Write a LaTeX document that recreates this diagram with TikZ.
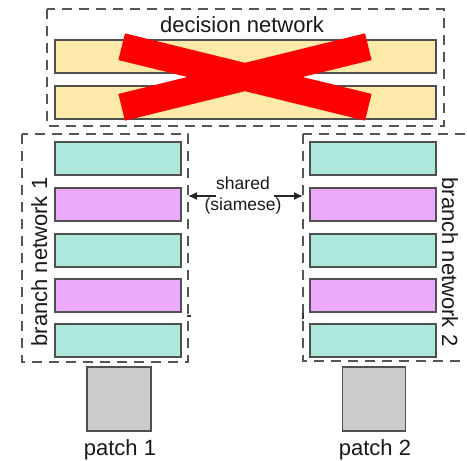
\documentclass[tikz,border=0pt]{standalone}
\usepackage{fontspec}
\setmainfont{Liberation Sans}
\usetikzlibrary{arrows.meta}
\definecolor{yel}{HTML}{FDE9A9}
\definecolor{teal2}{HTML}{AEE8DD}
\definecolor{pink2}{HTML}{EBAAFB}
\definecolor{patchgray}{HTML}{CCCCCC}
\definecolor{edge}{HTML}{505050}
\definecolor{dashgray}{HTML}{555555}
\tikzset{
  bar/.style={draw=edge, line width=1.3pt, rectangle, inner sep=0pt, minimum height=33pt},
  ybar/.style={bar, fill=yel, minimum width=381pt},
  tbar/.style={bar, fill=teal2, minimum width=126pt},
  pbar/.style={bar, fill=pink2, minimum width=126pt},
  patchbox/.style={draw=edge, line width=1.3pt, fill=patchgray, inner sep=0pt, minimum height=64pt},
  dbox/.style={draw=dashgray, line width=1.5pt, dash pattern=on 10pt off 7pt},
  lbl/.style={font=\fontsize{22}{26}\selectfont, text=black!90, inner sep=0pt},
  slbl/.style={font=\fontsize{17.5}{21}\selectfont, text=black!90, align=center, inner sep=0pt},
  arr/.style={draw=black!85, line width=1.4pt, -{Latex[length=9pt,width=8pt]}},
  cross/.style={draw=red, line width=27.5pt, line cap=butt}
}
\begin{document}
\begin{tikzpicture}[x=1pt,y=-1pt]
\useasboundingbox (0,0) rectangle (467,461);
\clip (0,0) rectangle (467,461);
\fill[white] (0,0) rectangle (467,461);

% decision network
\draw[dbox] (47,9) rectangle (444,126);
\node[lbl, anchor=base] (dtitle) at (242,32) {decision network};
\node[ybar] (y1) at (245.5,56.5) {};
\node[ybar] (y2) at (245.5,102.5) {};

% branch 1
\draw[dbox] (22,134) rectangle (188,362);
\coordinate (b1e) at (188,196);
\node[tbar] (l1) at (118,158.5) {};
\node[pbar] (l2) at (118,204.5) {};
\node[tbar] (l3) at (118,250.5) {};
\node[pbar] (l4) at (118,295.5) {};
\node[tbar] (l5) at (118,340.5) {};
\node[lbl, anchor=base, rotate=90] (bn1) at (47,262) {branch network 1};

% branch 2
\draw[dbox] (303,134) rectangle (480,361);
\coordinate (b2w) at (303,196);
\node[tbar] (r1) at (373,158.5) {};
\node[pbar] (r2) at (373,204.5) {};
\node[tbar] (r3) at (373,250.5) {};
\node[pbar] (r4) at (373,295.5) {};
\node[tbar] (r5) at (373,340.5) {};
\node[lbl, anchor=base, rotate=-90] (bn2) at (442,262) {branch network 2};

% shared
\node[slbl] (sh) at (243,195) {shared\\(siamese)};
\coordinate (la) at (216,196);
\coordinate (ra) at (274,196);
\draw[arr] (la) -- (b1e);
\draw[arr] (ra) -- (b2w);

% small ticks
\draw[black!80, line width=1.2pt] (187,316) -- (191,316);
\draw[black!80, line width=1.2pt] (303,313) -- (303,319);

% patches
\node[patchbox, minimum width=64pt] (p1) at (119,399) {};
\node[patchbox, minimum width=63pt] (p2) at (374,399) {};
\node[lbl, anchor=base] (pl1) at (120,455) {patch 1};
\node[lbl, anchor=base] (pl2) at (375,455) {patch 2};

% red cross
\coordinate (xa) at (121.7,46.7);
\coordinate (xb) at (368.3,107.3);
\coordinate (xc) at (121.7,107.3);
\coordinate (xd) at (368.3,46.7);
\draw[cross] (xa) -- (xb);
\draw[cross] (xc) -- (xd);
\end{tikzpicture}
\end{document}
